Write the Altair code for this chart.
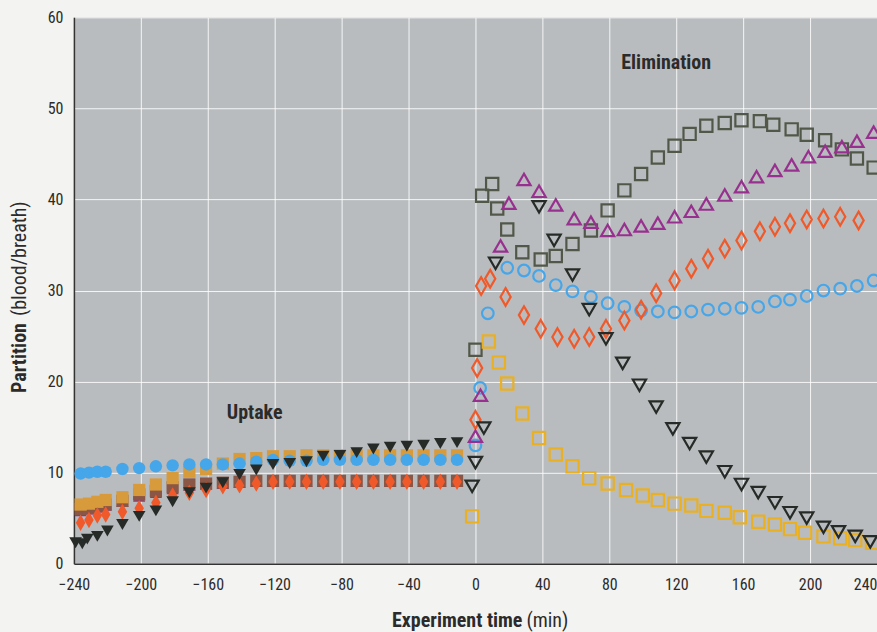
import altair as alt
import pandas as pd

# ---------------- data ----------------
# Uptake phase (filled markers)
up_t = [-236, -231, -226, -221, -211, -201, -191, -181, -171, -161, -151, -141, -131,
        -121, -111, -101, -91, -81, -71, -61, -51, -41, -31, -21, -11]
up_blue = [9.9, 10.0, 10.1, 10.1, 10.4, 10.5, 10.7, 10.8, 10.9, 10.9, 10.9, 11.0, 11.2,
           11.4, 11.3, 11.3, 11.4, 11.4, 11.4, 11.4, 11.4, 11.4, 11.4, 11.4, 11.4]
up_gold = [6.5, 6.6, 6.8, 7.0, 7.3, 8.1, 8.7, 9.4, 10.1, 10.4, 11.0, 11.5, 11.6,
           11.8, 11.8, 11.9, 11.9, 11.9, 11.9, 11.9, 11.9, 11.9, 11.9, 11.9, 11.9]
up_gray = [6.0, 6.1, 6.3, 6.5, 6.9, 7.6, 8.0, 8.4, 8.7, 8.8, 8.9, 9.0, 9.1,
           9.1, 9.1, 9.1, 9.1, 9.1, 9.1, 9.1, 9.1, 9.1, 9.1, 9.1, 9.1]
up_purple = [5.8, 6.0, 6.2, 6.4, 6.8, 7.4, 7.8, 8.2, 8.6, 8.7, 8.8, 8.9, 9.0,
             9.0, 9.0, 9.0, 9.0, 9.0, 9.0, 9.0, 9.0, 9.0, 9.0, 9.0, 9.0]
up_diamond = [4.5, 4.8, 5.3, 5.4, 5.7, 6.1, 6.7, 7.5, 7.8, 8.1, 8.5, 8.6, 8.8,
              9.0, 9.0, 9.0, 9.0, 9.0, 9.0, 9.0, 9.0, 9.0, 9.0, 9.0, 9.0]
up_black_t = [-239, -235, -232, -226, -220, -211, -201, -191, -181, -171, -161, -151, -141,
              -131, -121, -111, -101, -91, -81, -71, -61, -51, -41, -31, -21, -11]
up_black = [2.3, 2.2, 2.7, 3.0, 3.6, 4.3, 5.2, 5.8, 6.8, 7.8, 8.3, 8.9, 9.8,
            10.3, 10.9, 11.0, 11.2, 11.8, 11.9, 12.2, 12.6, 12.8, 12.9, 13.0, 13.2, 13.3]

# Elimination phase (open markers)
el_gray_t = [0, 4, 10, 13, 19, 28, 39, 48, 58, 69, 79, 89, 99, 109, 119, 128, 138, 149,
             159, 170, 178, 189, 198, 209, 219, 228, 238]
el_gray = [23.5, 40.4, 41.7, 39.0, 36.7, 34.2, 33.4, 33.8, 35.1, 36.6, 38.8, 41.0, 42.8,
           44.6, 45.9, 47.2, 48.1, 48.4, 48.7, 48.6, 48.2, 47.7, 47.1, 46.5, 45.5, 44.5, 43.5]
el_purple_t = [0, 3, 15, 20, 29, 38, 48, 59, 69, 79, 89, 99, 109, 119, 129, 138, 149,
               159, 168, 179, 189, 199, 209, 219, 228, 238]
el_purple = [14.0, 18.5, 34.9, 39.6, 42.2, 40.9, 39.4, 37.9, 37.5, 36.6, 36.7, 37.1, 37.4,
             38.1, 38.7, 39.5, 40.5, 41.4, 42.5, 43.2, 43.8, 44.7, 45.3, 45.8, 46.4, 47.4]
el_diamond_t = [0, 1, 3.4, 8.8, 18, 29, 39, 49, 59, 68, 78, 89, 99, 108, 119, 129, 139,
                149, 159, 170, 179, 188, 198, 208, 218, 229]
el_diamond = [15.8, 21.5, 30.5, 31.3, 29.3, 27.3, 25.8, 24.9, 24.7, 24.9, 25.8, 26.7, 27.9,
              29.7, 31.1, 32.4, 33.5, 34.6, 35.5, 36.5, 37.0, 37.4, 37.8, 37.9, 38.1, 37.7]
el_blue_t = [0, 2.8, 7.4, 19, 29, 38, 48, 58, 69, 79, 89, 99, 109, 119, 129, 139, 149,
             159, 169, 179, 188, 198, 208, 218, 228, 238]
el_blue = [13.0, 19.3, 27.5, 32.5, 32.2, 31.6, 30.6, 29.9, 29.3, 28.6, 28.2, 27.8, 27.7,
           27.6, 27.7, 27.9, 28.0, 28.1, 28.2, 28.8, 29.0, 29.4, 30.0, 30.2, 30.5, 31.1]
el_black_t = [-2, 0, 5, 12, 38, 47, 58, 68, 78, 88, 98, 108, 118, 128, 138, 149, 159,
              169, 179, 188, 198, 208, 217, 227, 236]
el_black = [8.5, 11.1, 14.9, 33.0, 39.2, 35.5, 31.7, 27.9, 24.7, 22.0, 19.6, 17.2, 14.8,
            13.2, 11.7, 10.1, 8.7, 7.8, 6.7, 5.6, 5.0, 4.0, 3.5, 3.0, 2.4]
el_gold_t = [-2, 8, 14, 19, 28, 38, 48, 58, 68, 79, 90, 100, 109, 119, 129, 138, 149,
             158, 169, 179, 188, 197, 208, 218, 227, 237]
el_gold = [5.2, 24.4, 22.1, 19.8, 16.5, 13.8, 12.0, 10.7, 9.4, 8.8, 8.1, 7.5, 7.0,
           6.6, 6.4, 5.8, 5.6, 5.1, 4.6, 4.3, 3.8, 3.4, 3.0, 2.8, 2.6, 2.3]

x_ticks = [-240, -200, -160, -120, -80, -40, 0, 40, 80, 120, 160, 200, 240]
y_ticks = [0, 10, 20, 30, 40, 50, 60]

ann_text = ["Uptake", "Elimination"]
ann_t = [-132, 114]
ann_v = [16.6, 55.0]

# ---------------- styling ----------------
FONT = "Liberation Sans Narrow, Roboto Condensed, DejaVu Sans Condensed, sans-serif"
TXT = "#2b2b2b"
TALL_DIAMOND = "M0,-1L0.58,0L0,1L-0.58,0Z"

W, H = 804, 547
xs = alt.Scale(domain=[-240, 240], nice=False, zero=False)
ys = alt.Scale(domain=[0, 60], nice=False)

x_axis = alt.Axis(values=x_ticks, title=None, ticks=False, labelPadding=13,
                  domainColor="#333333", domainWidth=1.5, gridColor="white",
                  gridOpacity=0.85, gridWidth=1, labelFont=FONT, labelFontSize=16,
                  labelColor=TXT, labelFlush=False,
                  labelAlign=alt.expr("datum.value >= 240 ? 'right' : 'center'"))
y_axis = alt.Axis(values=y_ticks, title=None, ticks=False, labelPadding=11,
                  domainColor="#333333", domainWidth=1.5, gridColor="white",
                  gridOpacity=0.85, gridWidth=1, labelFont=FONT, labelFontSize=16,
                  labelColor=TXT, labelFlush=False)


def pts(t, v, shape, color, filled, size, sw=2.2):
    df = pd.DataFrame({"t": t, "v": v})
    if filled:
        mk = alt.Chart(df).mark_point(shape=shape, filled=True, fill=color,
                                      opacity=1, size=size, strokeWidth=0)
    else:
        mk = alt.Chart(df).mark_point(shape=shape, filled=False, stroke=color,
                                      opacity=1, size=size, strokeWidth=sw)
    return mk.encode(x=alt.X("t:Q", scale=xs, axis=x_axis),
                     y=alt.Y("v:Q", scale=ys, axis=y_axis))


BLUE = "#46a6ea"
GRAY = "#525849"
BROWN = "#8a5646"
PURPLE = "#98308f"
ORANGE = "#f0592a"
BLACK = "#262b27"
GOLD = "#e9b024"
GOLD_FILL = "#d89b3c"

layers = [
    # uptake (filled)
    pts(up_t, up_purple, "triangle-up", PURPLE, True, 150),
    pts(up_t, up_gray, "square", BROWN, True, 150),
    pts(up_t, up_gold, "square", GOLD_FILL, True, 150),
    pts(up_t, up_diamond, TALL_DIAMOND, ORANGE, True, 270),
    pts(up_t, up_blue, "circle", BLUE, True, 155),
    pts(up_black_t, up_black, "triangle-down", BLACK, True, 160),
    # elimination (open)
    pts(el_gray_t, el_gray, "square", GRAY, False, 150),
    pts(el_gold_t, el_gold, "square", GOLD, False, 150),
    pts(el_blue_t, el_blue, "circle", BLUE, False, 135),
    pts(el_diamond_t, el_diamond, TALL_DIAMOND, ORANGE, False, 310),
    pts(el_purple_t, el_purple, "triangle-up", PURPLE, False, 175),
    pts(el_black_t, el_black, "triangle-down", BLACK, False, 175),
]

ann = alt.Chart(pd.DataFrame({"t": ann_t, "v": ann_v, "label": ann_text})).mark_text(
    font=FONT, fontSize=20, fontWeight="bold", color=TXT, align="center", baseline="middle"
).encode(x=alt.X("t:Q", scale=xs, axis=x_axis), y=alt.Y("v:Q", scale=ys, axis=y_axis),
         text="label:N")

one = pd.DataFrame({"a": [0]})
xt_bold = alt.Chart(one).mark_text(text="Experiment time", font=FONT, fontSize=20,
                                   fontWeight="bold", color=TXT, align="right",
                                   baseline="alphabetic").encode(
    x=alt.value(449), y=alt.value(610))
xt_reg = alt.Chart(one).mark_text(text="(min)", font=FONT, fontSize=20,
                                  color=TXT, align="left", baseline="alphabetic").encode(
    x=alt.value(453), y=alt.value(610))
yt_bold = alt.Chart(one).mark_text(text="Partition", font=FONT, fontSize=20,
                                   fontWeight="bold", color=TXT, align="left",
                                   baseline="alphabetic", angle=270).encode(
    x=alt.value(-48), y=alt.value(376))
yt_reg = alt.Chart(one).mark_text(text="(blood/breath)", font=FONT, fontSize=20,
                                  color=TXT, align="left", baseline="alphabetic",
                                  angle=270).encode(
    x=alt.value(-48), y=alt.value(299))

chart = alt.layer(*layers, ann, xt_bold, xt_reg, yt_bold, yt_reg).properties(
    width=W, height=H,
    autosize=alt.AutoSizeParams(type="none"),
    padding={"left": 74, "top": 17, "right": 0, "bottom": 68},
    background="#f3f3f1",
).configure_view(fill="#b9bcbe", stroke=None)

chart.save("out.html", embed_options={"renderer": "svg", "actions": False})
